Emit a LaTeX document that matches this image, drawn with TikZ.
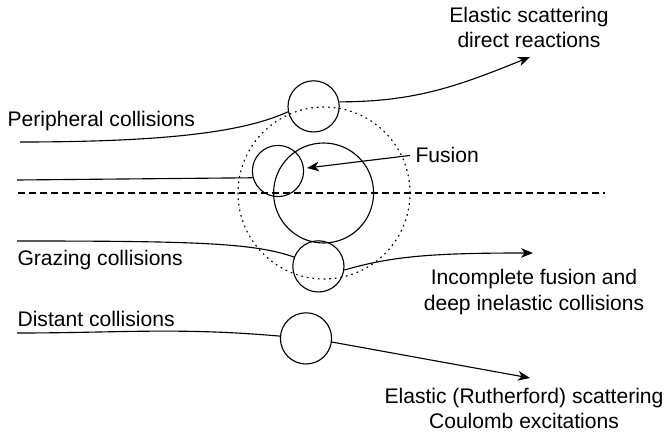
\documentclass[tikz,border=0pt]{standalone}
\usepackage{fontspec}
\setmainfont{Liberation Sans}
\usetikzlibrary{arrows.meta}

\begin{document}
\begin{tikzpicture}[>={Stealth[length=3mm,width=2.4mm,inset=0.9mm]},line width=0.8pt,
  ball/.style={draw,circle,inner sep=0pt,minimum size=1.28cm},
  lbl/.style={inner sep=0pt,font=\fontsize{15}{18}\selectfont},
  lbl2/.style={lbl,align=center}]
\useasboundingbox (0,0) rectangle (16.675,10.85);
\coordinate (axL) at (0.45,6.025);
\coordinate (axR) at (15.125,6.025);
\draw[dash pattern=on 5pt off 2.85pt] (axL) -- (axR);
\node[draw,circle,inner sep=0pt,minimum size=4.3cm,dash pattern=on 1.2pt off 2.8pt] (reach) at (8.1,6.025) {};
\node[draw,circle,inner sep=0pt,minimum size=2.5cm] (tgt) at (8.09,6.025) {};
\node[ball] (top) at (7.84,8.19) {};
\node[ball] (fus) at (6.95,6.575) {};
\node[ball] (gra) at (7.96,4.19) {};
\node[ball] (dis) at (7.65,2.39) {};
\node[lbl,anchor=base west] (perlbl) at (0.175,7.675) {Peripheral collisions};
\node[lbl,anchor=base west] (gralbl) at (0.425,4.2) {Grazing collisions};
\node[lbl,anchor=base west] (dislbl) at (0.425,2.675) {Distant collisions};
\node[lbl,anchor=base west] (fuslbl) at (10.375,6.775) {Fusion};
\node[lbl2] (elalbl) at (13.225,10.16) {Elastic scattering\\direct reactions};
\node[lbl2] (inclbl) at (13.35,3.55) {Incomplete fusion and\\deep inelastic collisions};
\node[lbl2] (rutlbl) at (13.1,0.6375) {Elastic (Rutherford) scattering\\Coulomb excitations};
\coordinate (perin) at (0.5,7.3);
\coordinate (fusin) at (0.425,6.35);
\coordinate (grain) at (0.425,4.825);
\coordinate (disin) at (0.425,2.525);
\coordinate (elatip) at (13.25,9.425);
\coordinate (fustip) at (7.675,6.65);
\coordinate (inctip) at (13.325,4.525);
\coordinate (ruttip) at (13.25,1.4);
\draw (perin) .. controls +(4,0) and +(-1,-0.45) .. (top.192);
\draw[->] (top.10) to[out=0,in=202] (elatip);
\draw (fusin) -- (fus.195);
\draw[->] ([xshift=-1.25mm]fuslbl.west) -- (fustip);
\draw (grain) .. controls +(4.5,0) and +(-1,0.35) .. (gra.159);
\draw[->] (gra.352) .. controls +(1.2,0.35) and +(-2.5,0) .. (inctip);
\draw (disin) to[out=0,in=175] (dis.175);
\draw[->] (dis.352) -- (ruttip);
\end{tikzpicture}
\end{document}
